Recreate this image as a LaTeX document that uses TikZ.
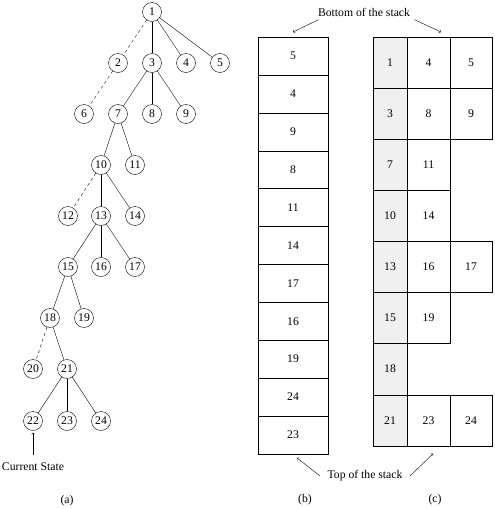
\documentclass[tikz,border=0pt]{standalone}
\usepackage{fontspec}
\setmainfont{Liberation Serif}

\begin{document}
\begin{tikzpicture}[x=1pt, y=-1pt, font=\fontsize{11.7}{14}\selectfont,
    state/.style={draw, circle, minimum size=19pt, inner sep=0pt},
    cellb/.style={draw, minimum width=70pt, minimum height=37.9pt, inner sep=0pt, outer sep=0pt},
    cellc/.style={draw, minimum height=51.1pt, inner sep=0pt, outer sep=0pt},
    shade/.style={cellc, fill=gray!12, minimum width=34pt}]
    \useasboundingbox (0,0) rectangle (495,509);

    % Search tree
    \foreach \n/\x/\y in {1/152/12, 2/118/63, 3/152/63, 4/186/63, 5/220/63,
        6/84/114, 7/118/114, 8/152/114, 9/186/114, 10/101/165, 11/135/165,
        12/68/216, 13/101/216, 14/135/216, 15/68/267, 16/101/267, 17/135/267,
        18/50/318, 19/84/318, 20/33/369, 21/67/369, 22/33/421, 23/67/421, 24/101/421} {
        \node[state] (n\n) at (\x,\y) {\n};
    }

    % Expanded and pruned edges
    \foreach \a/\b in {1/3,1/4,1/5,3/7,3/8,3/9,7/10,7/11,10/13,10/14,13/15,13/16,
        13/17,15/18,15/19,18/21,21/22,21/23,21/24} {
        \draw (n\a) -- (n\b);
    }
    \foreach \a/\b in {1/2,2/6,10/12,18/20} {
        \draw[dashed] (n\a) -- (n\b);
    }

    \node (cur) at (33,467) {Current State};
    \draw[->, shorten <=5pt, shorten >=2pt] (cur.north) -- (n22.south);

    % Stack (b)
    \foreach \v [count=\i] in {5,4,9,8,11,14,17,16,19,24,23} {
        \node[cellb] (b\i) at (293, {37+(\i-0.5)*37.9}) {\v};
    }

    % Stack (c)
    \foreach \v [count=\i] in {1,3,7,10,13,15,18,21} {
        \node[shade] (ca\i) at (390, {37+(\i-0.5)*51.1}) {\v};
    }
    \foreach \i/\v in {1/4,2/8,3/11,4/14,5/16,6/19,8/23} {
        \node[cellc, minimum width=43pt] (cb\i) at (428.5, {37+(\i-0.5)*51.1}) {\v};
    }
    \foreach \i/\v in {1/5,2/9,5/17,8/24} {
        \node[cellc, minimum width=42pt] (cc\i) at (471, {37+(\i-0.5)*51.1}) {\v};
    }

    % Labels
    \node (bot) at (364,12) {Bottom of the stack};
    \draw[->] ([xshift=4pt]bot.south west) -- ([yshift=5pt]b1.north);
    \draw[->] ([xshift=1pt]bot.south east) -- ([shift={(-9pt,5pt)}]cc1.north west);

    \node (top) at (365,476) {Top of the stack};
    \draw[->] ([xshift=-4pt]top.west) -- ([shift={(4pt,-4pt)}]b11.south);
    \draw[->] ([xshift=4pt]top.east) -- ([shift={(4.5pt,-8pt)}]cb8.south);

    \node (capa) at (67,501) {(a)};
    \node (capb) at (305,500) {(b)};
    \node (capc) at (435,500) {(c)};
\end{tikzpicture}
\end{document}
